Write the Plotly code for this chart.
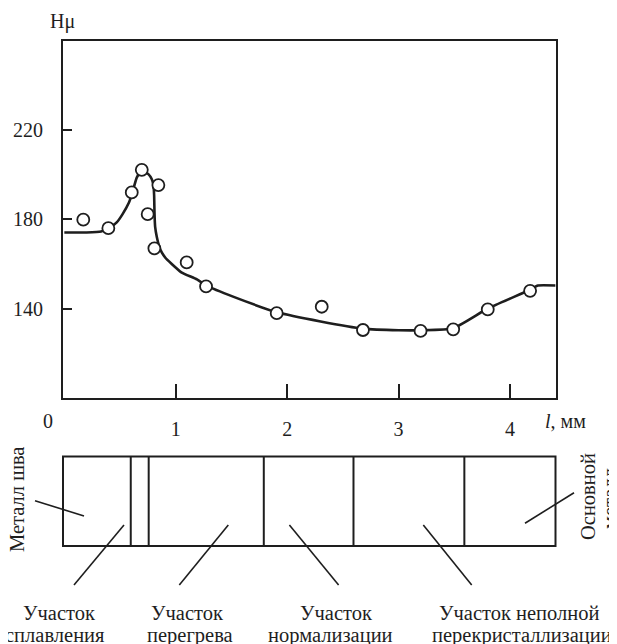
import plotly.graph_objects as go

# ---------------- data ----------------
curve_x = [0.00, 0.20, 0.33, 0.40, 0.47, 0.52, 0.58, 0.61, 0.65, 0.695, 0.754, 0.785,
           0.800, 0.806, 0.809, 0.815, 0.830, 0.859, 0.905, 0.964, 1.05, 1.19, 1.28,
           1.52, 1.91, 2.30, 2.68, 3.00, 3.20, 3.49, 3.80, 4.18, 4.25, 4.41]
curve_y = [174.0, 174.0, 174.4, 175.9, 178.5, 182.0, 187.4, 191.7, 198.5, 201.8, 200.1, 197.8,
           195.0, 190.4, 183.0, 176.5, 172.0, 166.6, 162.8, 159.9, 156.2, 153.0, 150.1,
           145.2, 138.3, 134.2, 131.0, 130.3, 130.3, 131.2, 140.0, 148.4, 150.3, 150.3]

point_x = [0.17, 0.395, 0.605, 0.695, 0.748, 0.808, 0.844, 1.098, 1.272, 1.906,
           2.31, 2.68, 3.197, 3.49, 3.80, 4.18]
point_y = [179.7, 175.9, 191.9, 202.0, 182.2, 166.9, 195.2, 160.6, 149.9, 137.9,
           140.8, 130.4, 130.0, 130.7, 139.6, 147.9]

y_tick_vals = [140, 180, 220]
x_tick_vals = [1, 2, 3, 4]
x_tick_text = ["1", "2", "3", "4"]

zone_boundaries = [0.596, 0.757, 1.79, 2.595, 3.59]

y_title = "Hμ"
x_title = "<i>l</i>, мм"
origin_label = "0"
weld_label = "Металл шва"
base_label = ["Основной", "металл"]
zone_labels = [
    ["Участок", "сплавления"],
    ["Участок", "перегрева"],
    ["Участок", "нормализации"],
    ["Участок неполной", "перекристаллизации"],
]

# ---------------- figure ----------------
# the page body has an 8px margin, so the figure is drawn 8px smaller
OFF = 8
W, H = 617 - OFF, 644 - OFF
INK = "#1e1e1e"
FONT = "Liberation Serif"


def px(x):
    return (x - OFF) / W


def py(y):
    return 1 - (y - OFF) / H


fig = go.Figure()

fig.add_trace(go.Scatter(
    x=curve_x, y=curve_y, mode="lines",
    line=dict(color=INK, width=2.6, shape="spline", smoothing=0.5),
    hoverinfo="skip", showlegend=False,
))
fig.add_trace(go.Scatter(
    x=point_x, y=point_y, mode="markers",
    marker=dict(symbol="circle", size=12, color="white",
                line=dict(color=INK, width=1.8)),
    showlegend=False,
))

axis_font = dict(family=FONT, size=20, color=INK)
label_font = dict(family=FONT, size=20.5, color=INK)

fig.update_layout(
    width=W, height=H,
    margin=dict(l=0, r=0, t=0, b=0),
    paper_bgcolor="white", plot_bgcolor="white",
    font=axis_font,
    xaxis=dict(
        domain=[px(63), px(555.5)], range=[-0.012, 4.408],
        showgrid=False, zeroline=False,
        showline=True, linecolor=INK, linewidth=2, mirror=True,
        ticks="inside", ticklen=14, tickwidth=2, tickcolor=INK,
        tickvals=x_tick_vals, ticktext=x_tick_text,
        ticklabelstandoff=12, tickfont=axis_font,
    ),
    yaxis=dict(
        domain=[py(398), py(41)], range=[100, 259.6],
        showgrid=False, zeroline=False,
        showline=True, linecolor=INK, linewidth=2, mirror=True,
        ticks="inside", ticklen=9, tickwidth=2, tickcolor=INK,
        tickvals=y_tick_vals, ticklabelstandoff=14, tickfont=axis_font,
    ),
)

annotations = [
    dict(text=y_title, x=px(62.5), y=py(21), xref="paper", yref="paper",
         showarrow=False, font=axis_font, xanchor="center", yanchor="middle"),
    dict(text=origin_label, x=px(47.7), y=py(420.7), xref="paper", yref="paper",
         showarrow=False, font=axis_font, xanchor="center", yanchor="middle"),
    dict(text=x_title, x=px(565), y=py(420.7), xref="paper", yref="paper",
         showarrow=False, font=axis_font, xanchor="center", yanchor="middle"),
    dict(text=weld_label, x=px(17), y=py(500), xref="paper", yref="paper",
         showarrow=False, font=label_font, textangle=-90,
         xanchor="center", yanchor="middle"),
    dict(text=base_label[0], x=px(588), y=py(497), xref="paper", yref="paper",
         showarrow=False, font=label_font, textangle=-90,
         xanchor="center", yanchor="middle"),
    dict(text=base_label[1], x=px(610), y=py(499), xref="paper", yref="paper",
         showarrow=False, font=label_font, textangle=-90,
         xanchor="center", yanchor="middle"),
]

label_pos = [((59, 613), (55, 635)), ((187, 613), (190, 635)),
             ((336, 613), (330, 635)), ((519, 613), (521.5, 635))]
for lines, pos in zip(zone_labels, label_pos):
    for t, (lx, ly) in zip(lines, pos):
        annotations.append(dict(text=t, x=px(lx), y=py(ly), xref="paper", yref="paper",
                                showarrow=False, font=label_font,
                                xanchor="center", yanchor="middle"))

fig.update_layout(annotations=annotations)

shapes = []
box_top, box_bot = py(456.5), py(546)
shapes.append(dict(type="rect", xref="x domain", yref="paper", x0=0, x1=1,
                   y0=box_bot, y1=box_top, line=dict(color=INK, width=2)))
for b in zone_boundaries:
    shapes.append(dict(type="line", xref="x", yref="paper", x0=b, x1=b,
                       y0=box_bot, y1=box_top, line=dict(color=INK, width=2)))

leaders = [((35, 500.7), (84, 516)),
           ((74, 585), (124, 525)),
           ((179.3, 585), (228.3, 525)),
           ((289.4, 525), (338.6, 585)),
           ((423.3, 525), (471.7, 585)),
           ((525, 523.3), (574, 492.7))]
for (x0, y0), (x1, y1) in leaders:
    shapes.append(dict(type="line", xref="paper", yref="paper",
                       x0=px(x0), y0=py(y0), x1=px(x1), y1=py(y1),
                       line=dict(color=INK, width=1.6)))

fig.update_layout(shapes=shapes)

fig.write_html("out.html")
